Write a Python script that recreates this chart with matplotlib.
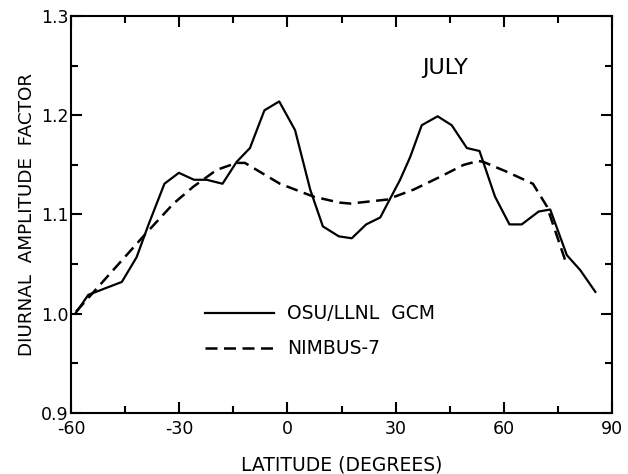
import matplotlib
matplotlib.use("Agg")
import matplotlib.pyplot as plt
from matplotlib.ticker import MultipleLocator

plt.rcParams['axes.unicode_minus'] = False

# OSU/LLNL GCM (solid)
gcm_lat = [-58.6, -55.2, -45.9, -41.8, -38.6, -34.1, -30.1, -25.9, -22.4, -18.0,
           -14.1, -10.4, -6.4, -2.3, 2.1, 6.3, 9.8, 14.2, 17.8, 21.8, 25.7,
           31.2, 34.0, 37.2, 41.6, 45.5, 49.7, 53.2, 57.5, 61.5, 64.9, 69.6,
           72.8, 77.4, 81.1, 85.3]
gcm_val = [1.001, 1.019, 1.032, 1.057, 1.089, 1.131, 1.142, 1.135, 1.135, 1.131,
           1.153, 1.167, 1.205, 1.214, 1.185, 1.125, 1.088, 1.078, 1.076, 1.090, 1.097,
           1.135, 1.158, 1.190, 1.199, 1.190, 1.167, 1.164, 1.118, 1.090, 1.090, 1.103,
           1.105, 1.059, 1.044, 1.022]

# NIMBUS-7 (dashed)
nim_lat = [-58.6, -39.2, -31.6, -26.1, -19.6, -14.1, -11.8, -2.1, 7.2, 14.4,
           17.4, 27.5, 34.9, 42.3, 48.8, 52.9, 54.3, 60.8, 68.0, 71.9, 77.4]
nim_val = [1.002, 1.081, 1.111, 1.128, 1.145, 1.152, 1.152, 1.131, 1.118, 1.112,
           1.111, 1.115, 1.125, 1.138, 1.150, 1.154, 1.153, 1.143, 1.131, 1.108, 1.049]

fig = plt.figure(figsize=(6.28, 4.74), dpi=100)
ax = fig.add_axes([0.113, 0.129, 0.862, 0.837])

ax.plot(gcm_lat, gcm_val, color='black', lw=1.6, label='OSU/LLNL  GCM')
ax.plot(nim_lat, nim_val, color='black', lw=1.8, dashes=(4.8, 2.6), label='NIMBUS-7')

ax.set_xlim(-60, 90)
ax.set_ylim(0.9, 1.3)
ax.xaxis.set_major_locator(MultipleLocator(30))
ax.xaxis.set_minor_locator(MultipleLocator(15))
ax.yaxis.set_major_locator(MultipleLocator(0.1))
ax.yaxis.set_minor_locator(MultipleLocator(0.05))
ax.tick_params(which='both', direction='in', top=True, right=True, width=1.5,
               labelsize=12.5)
ax.tick_params(which='major', length=8)
ax.tick_params(which='minor', length=5)
ax.tick_params(axis='x', which='major', pad=5)
ax.tick_params(axis='y', which='major', pad=2)
for s in ax.spines.values():
    s.set_linewidth(1.5)

ax.set_xlabel('LATITUDE (DEGREES)', fontsize=13.5, labelpad=13)
ax.set_ylabel('DIURNAL  AMPLITUDE  FACTOR', fontsize=13.2, labelpad=3)
ax.text(43.7, 1.2476, 'JULY', fontsize=16, ha='center', va='center')

ax.legend(loc='upper left', bbox_to_anchor=(0.216, 0.316), frameon=False,
          fontsize=13.5, handlelength=3.7, labelspacing=0.85, handletextpad=0.7)

fig.savefig('out.png', dpi=100)
